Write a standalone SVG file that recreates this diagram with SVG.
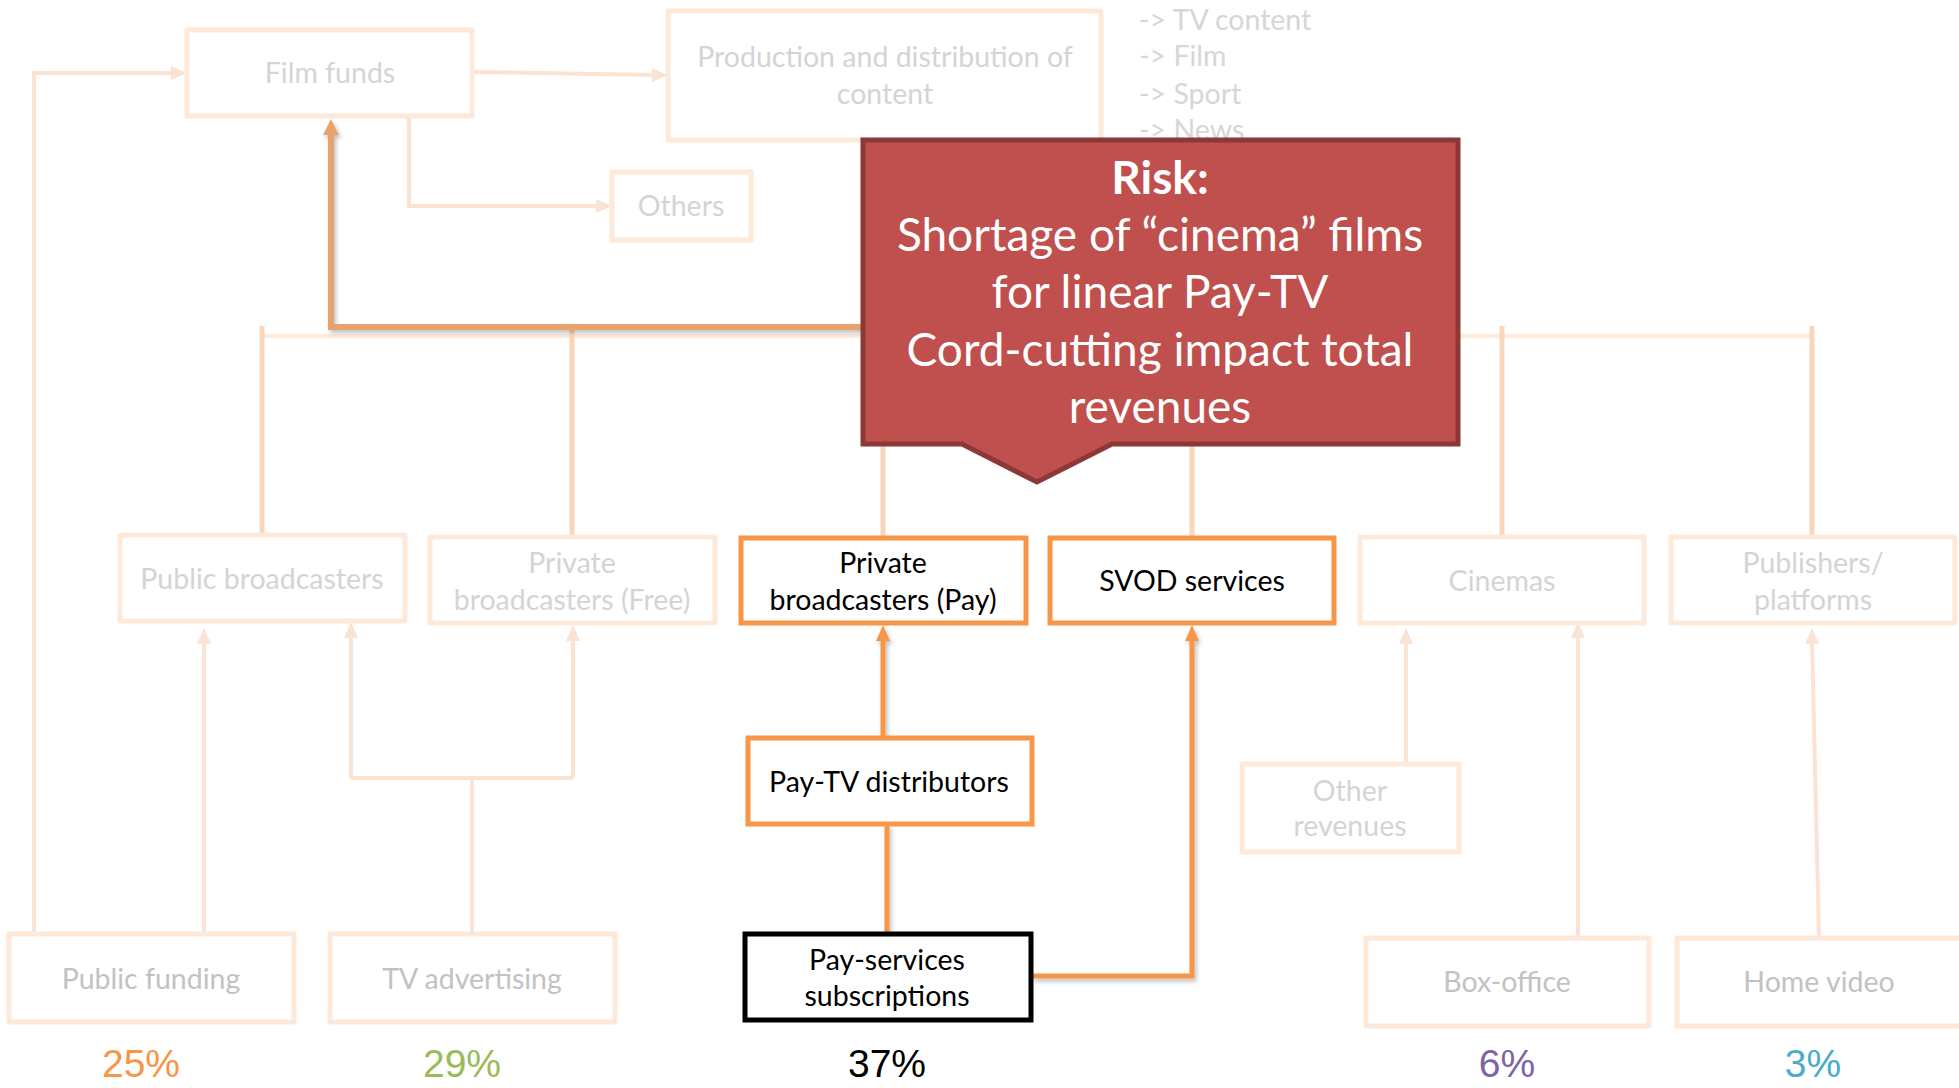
<svg xmlns="http://www.w3.org/2000/svg" width="1959" height="1088" viewBox="0 0 1959 1088">
  <defs>
    <style>
      .faint-box { fill: #ffffff; stroke: #FDE9DA; stroke-width: 5; stroke-linejoin: round; }
      .hot-box { fill: #ffffff; stroke: #F79646; stroke-width: 5; }
      .key-box { fill: #ffffff; stroke: #000000; stroke-width: 5; }
      .lbl { font-family: Lato, "Open Sans", sans-serif; font-size: 28.5px; text-anchor: middle; }
      .lbl-faint { fill: #D4D4D4; }
      .lbl-mid { fill: #C2C2C2; }
      .lbl-dark { fill: #000000; }
      .list { font-family: Lato, "Open Sans", sans-serif; font-size: 28.5px; fill: #D6D6D6; }
      .pct { font-family: "Liberation Sans", Arial, sans-serif; font-size: 39px; text-anchor: middle; }
      .risk { font-family: Lato, "Open Sans", sans-serif; font-size: 46px; fill: #ffffff; text-anchor: middle; }
      .c-faint { fill: none; stroke: #FBE3D3; stroke-width: 4; }
      .c-trunk { fill: none; stroke: #F9D6BA; stroke-width: 5; }
      .c-hot { fill: none; stroke: #F79646; stroke-width: 5; }
      .c-path { fill: none; stroke: #E8A36D; stroke-width: 6; }
    </style>
    <marker id="ah-faint" viewBox="0 0 16 14" refX="4" refY="7" markerWidth="16" markerHeight="14" markerUnits="userSpaceOnUse" orient="auto">
      <path d="M0,0 L16,7 L0,14 Z" fill="#FBE3D3"/>
    </marker>
    <marker id="ah-hot" viewBox="0 0 16 14" refX="4" refY="7" markerWidth="16" markerHeight="14" markerUnits="userSpaceOnUse" orient="auto">
      <path d="M0,0 L16,7 L0,14 Z" fill="#F79646"/>
    </marker>
    <marker id="ah-path" viewBox="0 0 16 16" refX="4" refY="8" markerWidth="16" markerHeight="16" markerUnits="userSpaceOnUse" orient="auto">
      <path d="M0,0 L16,8 L0,16 Z" fill="#E8A36D"/>
    </marker>
    <filter id="shadow" x="-10%" y="-10%" width="120%" height="120%">
      <feDropShadow dx="2" dy="3" stdDeviation="2" flood-color="#000000" flood-opacity="0.25"/>
    </filter>
    <filter id="soft" x="-5%" y="-50%" width="110%" height="200%">
      <feDropShadow dx="0" dy="4" stdDeviation="2" flood-color="#000000" flood-opacity="0.08"/>
    </filter>
  </defs>

  <rect width="1959" height="1088" fill="#ffffff"/>

  <!-- connectors -->
  <g id="connectors">
    <!-- revenue flows at the bottom -->
    <path class="c-faint" d="M34,933 V73 H175" marker-end="url(#ah-faint)"/>
    <path class="c-faint" d="M474,72 L656,75" marker-end="url(#ah-faint)"/>
    <path class="c-faint" d="M409,118 V206 H600" marker-end="url(#ah-faint)"/>
    <path class="c-faint" d="M204,933 V640" marker-end="url(#ah-faint)"/>
    <path class="c-faint" d="M472,933 V778"/>
    <path class="c-faint" d="M351,778 H573"/>
    <path class="c-faint" d="M351,778 V634" marker-end="url(#ah-faint)"/>
    <path class="c-faint" d="M573,778 V637" marker-end="url(#ah-faint)"/>
    <path class="c-faint" d="M1406,763 V640" marker-end="url(#ah-faint)"/>
    <path class="c-faint" d="M1578,938 V634" marker-end="url(#ah-faint)"/>
    <path class="c-faint" d="M1819,938 L1812,640" marker-end="url(#ah-faint)"/>

    <!-- broadcasters / platforms up to the funding trunk -->
    <g filter="url(#soft)">
      <path class="c-trunk" d="M262,328 H1812"/>
    </g>
    <path fill="none" stroke="#FDEBDF" stroke-width="4" d="M262,336 H1812"/>
    <path class="c-trunk" d="M262,535 V326"/>
    <path class="c-trunk" d="M572,537 V326"/>
    <path class="c-trunk" d="M883,537 V440"/>
    <path class="c-trunk" d="M1192,537 V440"/>
    <path class="c-trunk" d="M1502,537 V326"/>
    <path class="c-trunk" d="M1812,537 V326"/>

    <!-- highlighted path into the film funds -->
    <path class="c-path" d="M862,327 H331 V131" marker-end="url(#ah-path)" filter="url(#shadow)"/>

    <!-- pay-TV value chain -->
    <g filter="url(#shadow)">
      <path class="c-hot" d="M883,737 V637" marker-end="url(#ah-hot)"/>
      <path class="c-hot" d="M887,932 V825"/>
      <path class="c-hot" d="M1032,976 H1192 V637" marker-end="url(#ah-hot)"/>
    </g>
  </g>

  <!-- top row -->
  <g id="film-funds">
    <rect class="faint-box" x="187" y="30" width="285" height="86"/>
    <text class="lbl lbl-faint" x="330" y="83">Film funds</text>
  </g>
  <g id="production">
    <rect class="faint-box" x="668" y="11" width="433" height="129"/>
    <text class="lbl lbl-faint" x="885" y="67">Production and distribution of</text>
    <text class="lbl lbl-faint" x="885" y="104">content</text>
  </g>
  <g id="content-types">
    <text class="list" x="1139" y="30">-&gt; TV content</text>
    <text class="list" x="1139" y="66">-&gt; Film</text>
    <text class="list" x="1139" y="104">-&gt; Sport</text>
    <text class="list" x="1139" y="140">-&gt; News</text>
  </g>
  <g id="others">
    <rect class="faint-box" x="612" y="172" width="139" height="68"/>
    <text class="lbl lbl-faint" x="681" y="216">Others</text>
  </g>

  <!-- middle row -->
  <g id="public-broadcasters">
    <rect class="faint-box" x="120" y="535" width="285" height="86"/>
    <text class="lbl lbl-faint" x="262" y="589">Public broadcasters</text>
  </g>
  <g id="private-free">
    <rect class="faint-box" x="430" y="537" width="285" height="86"/>
    <text class="lbl lbl-faint" x="572" y="573">Private</text>
    <text class="lbl lbl-faint" x="572" y="610">broadcasters (Free)</text>
  </g>
  <g id="private-pay">
    <rect class="hot-box" x="741" y="538" width="285" height="85"/>
    <text class="lbl lbl-dark" x="883" y="573">Private</text>
    <text class="lbl lbl-dark" x="883" y="610">broadcasters (Pay)</text>
  </g>
  <g id="svod">
    <rect class="hot-box" x="1050" y="538" width="284" height="85"/>
    <text class="lbl lbl-dark" x="1192" y="591">SVOD services</text>
  </g>
  <g id="cinemas">
    <rect class="faint-box" x="1360" y="537" width="284" height="86"/>
    <text class="lbl lbl-faint" x="1502" y="591">Cinemas</text>
  </g>
  <g id="publishers">
    <rect class="faint-box" x="1671" y="537" width="284" height="86"/>
    <text class="lbl lbl-faint" x="1813" y="573">Publishers/</text>
    <text class="lbl lbl-faint" x="1813" y="610">platforms</text>
  </g>

  <!-- intermediaries -->
  <g id="paytv-distributors">
    <rect class="hot-box" x="748" y="738" width="284" height="86"/>
    <text class="lbl lbl-dark" x="889" y="792">Pay-TV distributors</text>
  </g>
  <g id="other-revenues">
    <rect class="faint-box" x="1242" y="764" width="217" height="88"/>
    <text class="lbl lbl-faint" x="1350" y="801">Other</text>
    <text class="lbl lbl-faint" x="1350" y="836">revenues</text>
  </g>

  <!-- revenue sources -->
  <g id="public-funding">
    <rect class="faint-box" x="9" y="934" width="285" height="88"/>
    <text class="lbl lbl-mid" x="151" y="989">Public funding</text>
  </g>
  <g id="tv-advertising">
    <rect class="faint-box" x="330" y="934" width="285" height="88"/>
    <text class="lbl lbl-mid" x="472" y="989">TV advertising</text>
  </g>
  <g id="pay-services">
    <rect class="key-box" x="745" y="934" width="286" height="86"/>
    <text class="lbl lbl-dark" x="887" y="970">Pay-services</text>
    <text class="lbl lbl-dark" x="887" y="1006">subscriptions</text>
  </g>
  <g id="box-office">
    <rect class="faint-box" x="1366" y="938" width="283" height="88"/>
    <text class="lbl lbl-mid" x="1507" y="992">Box-office</text>
  </g>
  <g id="home-video">
    <rect class="faint-box" x="1677" y="938" width="290" height="88"/>
    <text class="lbl lbl-mid" x="1819" y="992">Home video</text>
  </g>

  <!-- revenue shares -->
  <g id="shares">
    <text class="pct" x="141" y="1077" fill="#F79646">25%</text>
    <text class="pct" x="462" y="1077" fill="#9BBB59">29%</text>
    <text class="pct" x="887" y="1077" fill="#000000">37%</text>
    <text class="pct" x="1507" y="1077" fill="#8064A2">6%</text>
    <text class="pct" x="1813" y="1077" fill="#4BACC6">3%</text>
  </g>

  <!-- risk callout -->
  <g id="risk-callout">
    <path d="M863,140 H1458 V444 H1112 L1037,482 L962,444 H863 Z" fill="#C0504D" stroke="#8C3836" stroke-width="5" stroke-linejoin="miter"/>
    <text class="risk" x="1160" y="194" font-weight="bold">Risk:</text>
    <text class="risk" x="1160" y="251">Shortage of “cinema” films</text>
    <text class="risk" x="1160" y="308">for linear Pay-TV</text>
    <text class="risk" x="1160" y="366">Cord-cutting impact total</text>
    <text class="risk" x="1160" y="423">revenues</text>
  </g>
</svg>
